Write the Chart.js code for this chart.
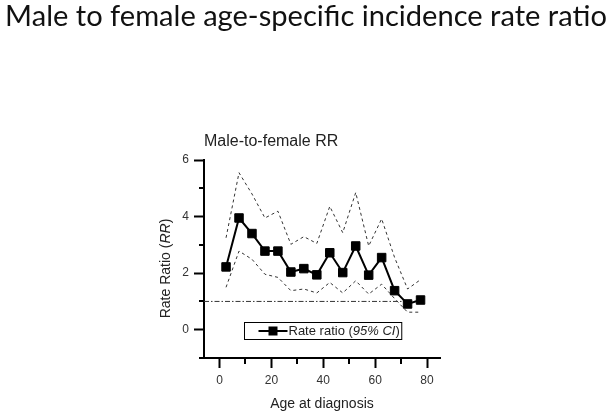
<!DOCTYPE html>
<html>
<head>
<meta charset="utf-8">
<script src="https://cdn.jsdelivr.net/npm/chart.js@4/dist/chart.umd.min.js"></script>
<style>
  html, body { margin: 0; padding: 0; background: #fff; }
  #wrap { width: 611px; height: 417px; }
</style>
</head>
<body>
<div id="wrap"><canvas id="rr-canvas" width="611" height="417"></canvas></div>
<script>
// Data

const ages = [2.5, 7.5, 12.5, 17.5, 22.5, 27.5, 32.5, 37.5, 42.5, 47.5, 52.5, 57.5, 62.5, 67.5, 72.5, 77.5];
const rateRatio = [2.22, 3.95, 3.40, 2.78, 2.78, 2.04, 2.16, 1.94, 2.72, 2.02, 2.96, 1.93, 2.55, 1.38, 0.91, 1.05];
const upperCI = [3.25, 5.55, 4.80, 3.95, 4.19, 3.02, 3.29, 3.05, 4.36, 3.43, 4.85, 2.96, 3.92, 2.55, 1.44, 1.77];
const lowerCI = [1.50, 2.78, 2.49, 1.96, 1.85, 1.38, 1.44, 1.30, 1.67, 1.30, 1.73, 1.26, 1.61, 1.10, 0.62, 0.62];
const refRatio = 1;

const xMajorTicks = [0, 20, 40, 60, 80];
const xMinorTicks = [10, 30, 50, 70];
const yMajorTicks = [0, 2, 4, 6];
const yMinorTicks = [-1, 1, 3, 5];

const mainTitle = 'Male to female age-specific incidence rate ratio';
const font = "'Liberation Sans', Arial, sans-serif";

const toPoints = (vals) => vals.map((v, i) => ({x: ages[i], y: v}));

// Extra drawing: page title, y title with italics, minor ticks, legend box

const extras = {
    id: 'extras',
    afterDraw(chart) {
        const ctx = chart.ctx,
              xs = chart.scales.x,
              ys = chart.scales.y,
              area = chart.chartArea;

        ctx.save();

        // page title
        ctx.font = '30px Lato';
        let size = 30 * 602 / ctx.measureText(mainTitle).width;
        ctx.font = size + 'px Lato';
        ctx.fillStyle = '#111';
        ctx.textAlign = 'center';
        ctx.textBaseline = 'alphabetic';
        ctx.fillText(mainTitle, 306, 26);

        // minor ticks
        ctx.strokeStyle = '#000';
        ctx.lineWidth = 2;
        ctx.beginPath();
        xMinorTicks.forEach(v => {
            let px = Math.round(xs.getPixelForValue(v));
            ctx.moveTo(px, area.bottom);
            ctx.lineTo(px, area.bottom + 6);
        });
        yMinorTicks.forEach(v => {
            let py = Math.round(ys.getPixelForValue(v));
            ctx.moveTo(area.left, py);
            ctx.lineTo(area.left - 5, py);
        });
        ctx.stroke();

        // y axis title, RR in italics
        const parts = [['Rate Ratio (', ''], ['RR', 'italic '], [')', '']];
        let total = 0;
        parts.forEach(p => {
            ctx.font = p[1] + '14px ' + font;
            p.push(ctx.measureText(p[0]).width);
            total += p[2];
        });
        ctx.translate(166, 268.5);
        ctx.rotate(-Math.PI / 2);
        ctx.fillStyle = '#222';
        ctx.textAlign = 'left';
        ctx.textBaseline = 'middle';
        let tx = -total / 2;
        parts.forEach(p => {
            ctx.font = p[1] + '14px ' + font;
            ctx.fillText(p[0], tx, 0);
            tx += p[2];
        });
        ctx.setTransform(1, 0, 0, 1, 0, 0);

        // legend box
        const legParts = [['Rate ratio (', ''], ['95% CI', 'italic '], [')', '']];
        let legW = 0;
        legParts.forEach(p => {
            ctx.font = p[1] + '13px ' + font;
            p.push(ctx.measureText(p[0]).width);
            legW += p[2];
        });
        const bx = Math.round(xs.getPixelForValue(10)) - 0.5,
              by = Math.round(ys.getPixelForValue(0.27)) + 0.5,
              bw = legW + 46,
              bh = 17;
        ctx.fillStyle = '#fff';
        ctx.fillRect(bx, by, bw, bh);
        ctx.strokeStyle = '#000';
        ctx.lineWidth = 1;
        ctx.strokeRect(bx, by, bw, bh);

        ctx.lineWidth = 2;
        ctx.beginPath();
        ctx.moveTo(bx + 14, by + bh / 2);
        ctx.lineTo(bx + 43, by + bh / 2);
        ctx.stroke();
        ctx.fillStyle = '#000';
        ctx.fillRect(bx + 28.5 - 4.5, by + bh / 2 - 4.5, 9, 9);

        ctx.fillStyle = '#222';
        ctx.textBaseline = 'middle';
        let lx = bx + 44;
        legParts.forEach(p => {
            ctx.font = p[1] + '13px ' + font;
            ctx.fillText(p[0], lx, by + bh / 2 + 0.5);
            lx += p[2];
        });

        ctx.restore();
    }
};

const rrCanvas = document.getElementById('rr-canvas');

let rrChart = new Chart(rrCanvas, {
    type: 'line',
    data: {
        datasets: [{
            label: 'Rate ratio (95% CI)',
            data: toPoints(rateRatio),
            borderColor: '#000',
            borderWidth: 2,
            pointStyle: 'rect',
            pointRadius: 6,
            pointBackgroundColor: '#000',
            pointBorderColor: '#000',
            pointBorderWidth: 1
        }, {
            label: 'Upper 95% CI',
            data: toPoints(upperCI),
            borderColor: '#333',
            borderWidth: 1,
            borderDash: [3, 3],
            pointRadius: 0
        }, {
            label: 'Lower 95% CI',
            data: toPoints(lowerCI),
            borderColor: '#333',
            borderWidth: 1,
            borderDash: [3, 3],
            pointRadius: 0
        }, {
            label: 'RR = 1',
            data: [{x: -6, y: refRatio}, {x: ages[ages.length - 1], y: refRatio}],
            borderColor: '#333',
            borderWidth: 1,
            borderDash: [5, 2, 1.5, 2],
            pointRadius: 0
        }]
    },
    options: {
        responsive: false,
        animation: false,
        layout: {
            padding: {top: 132, left: 160, right: 171, bottom: 0}
        },
        plugins: {
            legend: {display: false},
            tooltip: {enabled: false},
            title: {
                display: true,
                text: 'Male-to-female RR',
                align: 'start',
                fullSize: false,
                color: '#222',
                font: {family: font, size: 16, weight: 'normal'},
                padding: {top: 0, bottom: 8.8}
            }
        },
        scales: {
            x: {
                type: 'linear',
                min: -6,
                max: 85,
                afterBuildTicks: s => { s.ticks = xMajorTicks.map(v => ({value: v})); },
                afterFit: s => { s.height = 59; },
                grid: {drawOnChartArea: false, tickLength: 10, tickWidth: 2, tickColor: '#000'},
                border: {color: '#000', width: 2},
                ticks: {color: '#333', font: {family: font, size: 12}, padding: 5},
                title: {
                    display: true,
                    text: 'Age at diagnosis',
                    color: '#222',
                    font: {family: font, size: 14},
                    padding: {top: 0, bottom: 4.5}
                }
            },
            y: {
                min: -1,
                max: 6,
                afterBuildTicks: s => { s.ticks = yMajorTicks.map(v => ({value: v})); },
                afterFit: s => { s.width = 44; },
                grid: {drawOnChartArea: false, tickLength: 10, tickWidth: 2, tickColor: '#000'},
                border: {color: '#000', width: 2},
                ticks: {color: '#333', font: {family: font, size: 12}, padding: 5}
            }
        }
    },
    plugins: [extras]
});
</script>
</body>
</html>
